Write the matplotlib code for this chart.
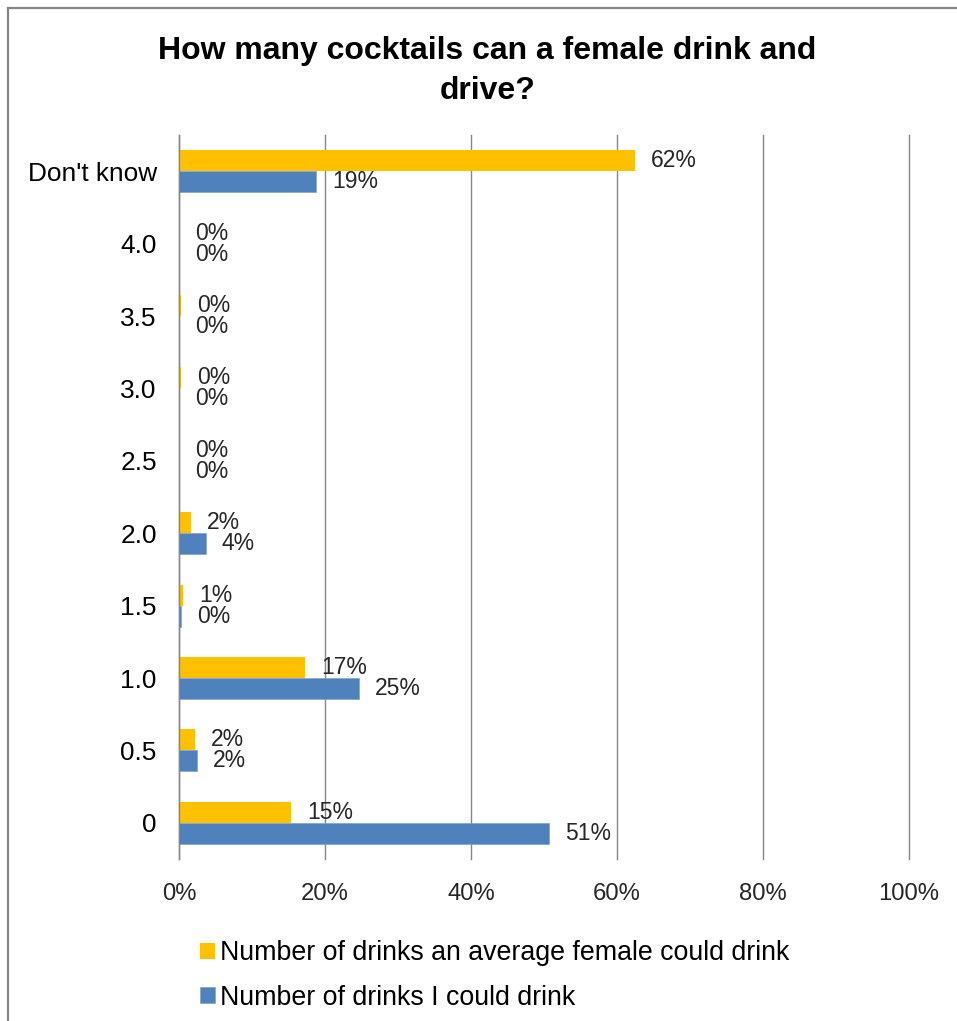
import matplotlib
matplotlib.use("Agg")
import matplotlib.pyplot as plt
from matplotlib.lines import Line2D
import numpy as np

# data (share of respondents)
categories = ["0", "0.5", "1.0", "1.5", "2.0", "2.5", "3.0", "3.5", "4.0", "Don't know"]
female_avg = [0.154, 0.022, 0.173, 0.006, 0.016, 0.0, 0.003, 0.003, 0.0, 0.624]
me = [0.507, 0.024, 0.247, 0.003, 0.037, 0.0, 0.0, 0.0, 0.0, 0.188]
series_names = ["Number of drinks an average female could drink",
                "Number of drinks I could drink"]
xticks = [0, 0.2, 0.4, 0.6, 0.8, 1.0]

plt.rcParams['font.family'] = ['Liberation Sans', 'DejaVu Sans']

yellow = '#FFC000'
blue = '#4F81BD'
grid_col = '#868686'

fig = plt.figure(figsize=(9.57, 10.21), dpi=100)
ax = fig.add_axes([179/957, 1 - 859/1021, 730/957, 724/1021])

y = np.arange(len(categories))
h = 0.29
b1 = ax.barh(y + h/2, female_avg, height=h, color=yellow, label=series_names[0], zorder=3)
b2 = ax.barh(y - h/2, me, height=h, color=blue, edgecolor='#7FA3D3', linewidth=0.5,
             label=series_names[1], zorder=3)

for bars, vals in ((b1, female_avg), (b2, me)):
    for rect, v in zip(bars, vals):
        ax.annotate(f"{v:.0%}", (v, rect.get_y() + rect.get_height()/2),
                    xytext=(11.5, 0), textcoords='offset points',
                    ha='left', va='center', fontsize=16.5, color='#262626')

ax.set_xlim(0, 1)
ax.set_ylim(-0.5, len(categories) - 0.5)
ax.set_xticks(xticks)
ax.set_xticklabels([f"{t:.0%}" for t in xticks], fontsize=17.2, color='#262626')
ax.set_yticks(y)
ax.set_yticklabels(categories, fontsize=18.9, color='black')
ax.tick_params(axis='x', length=0, pad=17)
ax.tick_params(axis='y', length=0, pad=16)
ax.grid(axis='x', color=grid_col, linewidth=1, zorder=0)
for gl in ax.get_xgridlines():
    gl.set_clip_on(False)
for s in ('top', 'right', 'bottom'):
    ax.spines[s].set_visible(False)
ax.spines['left'].set_color(grid_col)
ax.spines['left'].set_linewidth(1)
ax.spines['left'].set_zorder(4)

fig.text(487.5/957, 1 - 71/1021, "How many cocktails can a female drink and\ndrive?",
         ha='center', va='center', fontsize=23, fontweight='bold', linespacing=1.45)

fig.legend(handles=[b1, b2], labels=series_names, loc='upper left',
           bbox_to_anchor=(176/957, 1 - 916/1021), frameon=False, fontsize=19.3,
           handlelength=0.55, handleheight=0.55, handletextpad=0.2, labelspacing=0.7)

# chart border (only top and left edge are inside the crop)
fig.add_artist(Line2D([8/957, 8/957], [-0.1, 1 - 8/1021], transform=fig.transFigure,
                      color=grid_col, linewidth=1.6))
fig.add_artist(Line2D([8/957, 1.1], [1 - 8/1021, 1 - 8/1021], transform=fig.transFigure,
                      color=grid_col, linewidth=1.6))

fig.savefig("out.png", dpi=100)
